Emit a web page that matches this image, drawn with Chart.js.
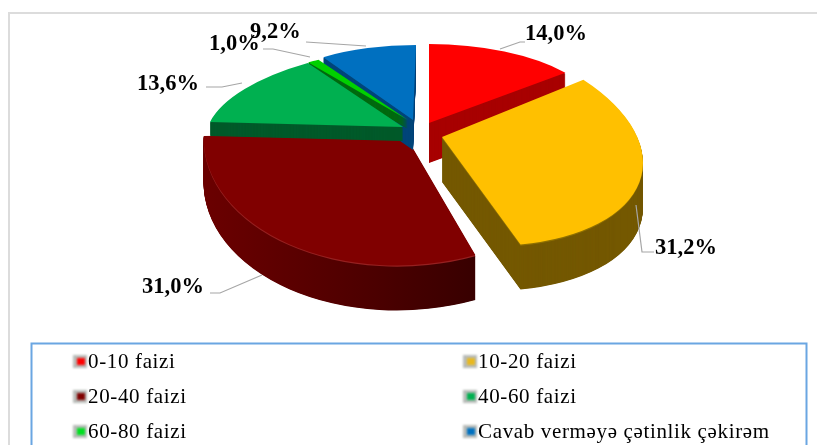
<!DOCTYPE html>
<html><head><meta charset="utf-8">
<style>html,body{margin:0;padding:0;background:#fff;overflow:hidden}#wrap{width:817px;height:445px;position:relative}</style>
<script src="https://cdn.jsdelivr.net/npm/chart.js@4"></script>
</head><body><div id="wrap"><canvas id="c" width="817" height="445"></canvas></div>
<script>
const categories = ['0-10 faizi','10-20 faizi','20-40 faizi','40-60 faizi','60-80 faizi','Cavab verməyə çətinlik çəkirəm'];
const values = [14.0,31.2,31.0,13.6,1.0,9.2];
const valueLabels = ['14,0%','31,2%','31,0%','13,6%','1,0%','9,2%'];
const topColors = ['#FF0000','#FFC000','#800000','#00B050','#00D000','#0070C0'];
const swatchColors = ['#FF0000','#E8B820','#800000','#00B050','#00E020','#0070C0'];
const sideColors = ['#A80000','#745800',['#6A0000','#340000'],'#005A2A','#006A10','#00457A'];
const rimColors = [null,'#8F7000','#962020',null,null,null];

// Perspective projection of each exploded slice: apex position, and the screen vectors of the sin/cos axes
const sliceView = [
  {a:[429,123],u:[177,0],v:[0,-79],depth:40},
  {a:[442,137],u:[200,15],v:[-20,-108],depth:45},
  {a:[404,133],u:[200,-12.9],v:[-12.5,-131.8],depth:45},
  {a:[403,127],u:[195.5,-1],v:[27,-80.5],depth:14},
  {a:[408,120],u:[190,0],v:[17,-72],depth:9},
  {a:[413,120],u:[169,0],v:[3,-75],depth:30}
];
const drawOrder = [2,5,4,3,0,1];
const labelView = [
  {x:525,y:40,line:[[500,49],[520,42],[525,42]]},
  {x:655,y:254,line:[[636,205],[642,252],[654,252]]},
  {x:142,y:293,line:[[262,275],[220,293],[210,293]]},
  {x:137,y:90,line:[[242,83],[222,87],[206,87]]},
  {x:209,y:50,line:[[310,57],[273,49],[263,49]]},
  {x:250,y:38,line:[[366,46],[306,42]]}
];
const legendCols = [88,478], legendRows = [368,403,438];

const pie3d = {
  id:'pie3d',
  beforeDatasetsDraw(chart){
    const ctx = chart.ctx, meta = chart.getDatasetMeta(0), ArcDraw = Chart.ArcElement.prototype.draw;
    drawOrder.forEach(i=>{
      const el = meta.data[i], R = el.outerRadius, g = sliceView[i];
      const a=g.u[0]/R,b=g.u[1]/R,c=-g.v[0]/R,d=-g.v[1]/R;
      const paint=(color,dy)=>{
        const w = Object.create(el,{options:{value:Object.assign({},el.options,{backgroundColor:color,borderWidth:0})}});
        ctx.save();
        ctx.translate(0,dy);
        ctx.transform(a,b,c,d,g.a[0]-a*el.x-c*el.y,g.a[1]-b*el.x-d*el.y);
        ArcDraw.call(w,ctx);
        ctx.restore();
      };
      let side = sideColors[i];
      if(Array.isArray(side)){
        const gr = ctx.createLinearGradient(el.x-R,0,el.x+R*0.4,0);
        gr.addColorStop(0,side[0]); gr.addColorStop(1,side[1]); side = gr;
      }
      for(let k=g.depth;k>=1;k-=0.5) paint(side,k);
      if(rimColors[i]) paint(rimColors[i],1.2);
      paint(topColors[i],0);
    });
    return false;
  },
  afterDraw(chart){
    const ctx = chart.ctx;
    ctx.save();
    // outer frame
    ctx.fillStyle='#dcdcdc';
    ctx.fillRect(8,12,809,2); ctx.fillRect(8,12,2,433);
    // leader lines and value labels
    ctx.strokeStyle='#a6a6a6'; ctx.lineWidth=1.2;
    ctx.fillStyle='#000'; ctx.font='bold 22.5px "Liberation Serif"'; ctx.textBaseline='alphabetic';
    labelView.forEach((l,i)=>{
      ctx.beginPath();
      l.line.forEach((p,j)=> j?ctx.lineTo(p[0],p[1]):ctx.moveTo(p[0],p[1]));
      ctx.stroke();
    });
    labelView.forEach((l,i)=>ctx.fillText(valueLabels[i],l.x,l.y));
    // legend
    ctx.strokeStyle='#6AA6E2'; ctx.lineWidth=2;
    ctx.beginPath(); ctx.moveTo(31.5,446); ctx.lineTo(31.5,343.5); ctx.lineTo(806.5,343.5); ctx.lineTo(806.5,446); ctx.stroke();
    ctx.font='21px "Liberation Serif"'; ctx.letterSpacing='0.65px';
    categories.forEach((t,i)=>{
      const x=legendCols[i%2], y=legendRows[Math.floor(i/2)];
      ctx.save();
      ctx.fillStyle='#b8bcb8'; ctx.filter='blur(1.2px)'; ctx.fillRect(x-15,y-13,14,13);
      ctx.fillStyle=swatchColors[i]; ctx.filter='blur(0.8px)'; ctx.fillRect(x-11,y-10,8,7);
      ctx.restore();
      ctx.fillStyle='#000'; ctx.fillText(t,x,y);
    });
    ctx.restore();
  }
};

new Chart(document.getElementById('c'),{
  type:'pie',
  data:{labels:categories,datasets:[{data:values,backgroundColor:topColors,borderWidth:0}]},
  options:{
    responsive:false,animation:false,
    layout:{padding:{top:60,bottom:140}},
    plugins:{legend:{display:false},tooltip:{enabled:false}}
  },
  plugins:[pie3d]
});
</script></body></html>
